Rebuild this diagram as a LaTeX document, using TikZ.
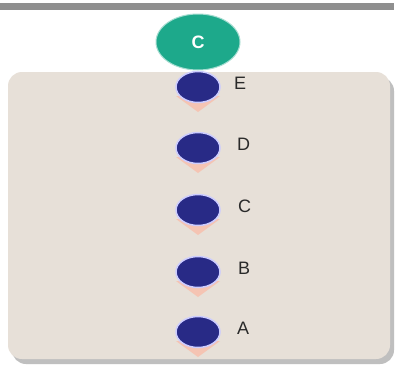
\documentclass[tikz,border=0pt]{standalone}
\usepackage{fontspec}
\setmainfont{Liberation Sans}
\usetikzlibrary{calc,shapes.geometric}
\definecolor{teal1}{HTML}{1DA98B}
\definecolor{navy}{HTML}{282A86}
\definecolor{beige}{HTML}{E7E0D8}
\definecolor{pinkarrow}{HTML}{F5C4B3}
\definecolor{bargray}{HTML}{8F8F8F}
\definecolor{labelgray}{HTML}{2A2A2A}
\tikzset{
  dot/.style={ellipse, fill=navy, draw=white!80!blue, line width=1.5pt, minimum width=44pt, minimum height=31pt, inner sep=0pt},
  lbl/.style={font=\fontsize{18}{18}\selectfont, text=labelgray, anchor=west, inner sep=0pt},
  tri/.style={fill=pinkarrow, draw=none},
}
\begin{document}
\begin{tikzpicture}[x=1pt,y=-1pt]
\useasboundingbox (0,0) rectangle (401,370);
\fill[white] (0,0) rectangle (401,370);
% top bar
\fill[bargray] (0,3) rectangle (394,10);
% box shadow and box
\fill[black!25, rounded corners=14pt] (12,77) rectangle (394,364);
\fill[beige, rounded corners=14pt] (8,72) rectangle (390,359);
% top ellipse
\node[ellipse, fill=teal1, draw=teal1!40!white, line width=1pt, minimum width=84pt, minimum height=56pt, text=white, font=\bfseries\fontsize{18}{18}\selectfont] (top) at (198,42) {C};
% dots
\foreach \n/\yy/\xx in {E/87/234, D/148/237, C/210/238, B/272/238, A/332/237}{
  \coordinate (t\n) at (198,\yy+25);
  \fill[tri] (176,\yy+9) -- (220,\yy+9) -- (t\n) -- cycle;
  \node[dot] (d\n) at (198,\yy) {};
  \node[lbl] (l\n) at (\xx,\yy-4) {\n};
}
\end{tikzpicture}
\end{document}
